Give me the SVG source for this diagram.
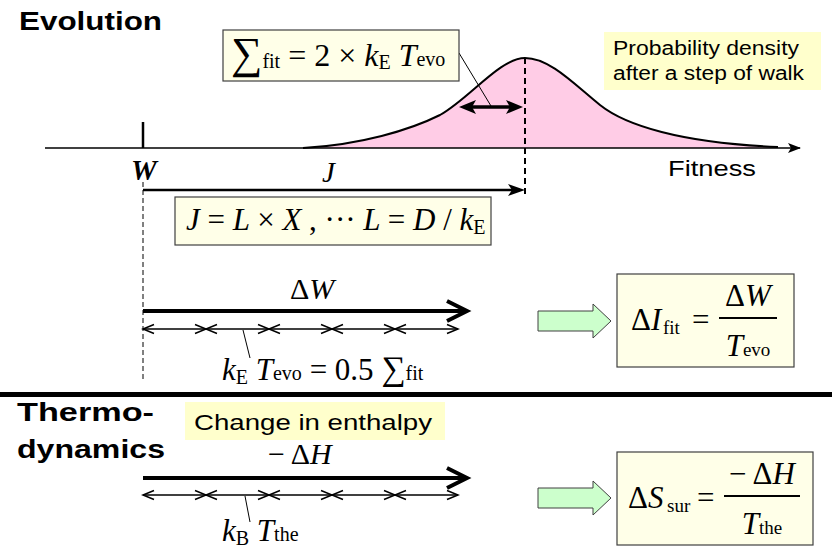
<svg xmlns="http://www.w3.org/2000/svg" width="832" height="552" viewBox="0 0 832 552">
<style>
.sans{font-family:"Liberation Sans",Arial,sans-serif;fill:#000}
.hb{font-family:"Liberation Sans",Arial,sans-serif;font-weight:bold;fill:#000}
.m{font-family:"Liberation Serif","Times New Roman",serif;fill:#000}
.i{font-style:italic}
.box{fill:#FFFFE8;stroke:#404040;stroke-width:1.2}
.note{fill:#FFFFCC;stroke:none}
.green{fill:#CCFFCC;stroke:#404040;stroke-width:1}
.thin{stroke:#000;stroke-width:1.5;fill:none}
</style>
<defs>
<marker id="hAxis" markerUnits="userSpaceOnUse" markerWidth="14" markerHeight="12" refX="12" refY="6" orient="auto"><path d="M0,1 L13,6 L0,11 L3,6 Z" fill="#000"/></marker>
<marker id="hJ" markerUnits="userSpaceOnUse" markerWidth="18" markerHeight="14" refX="12" refY="7" orient="auto"><path d="M0,1 L17,7 L0,13 L4,7 Z" fill="#000"/></marker>
<marker id="hD" markerUnits="userSpaceOnUse" markerWidth="18" markerHeight="16" refX="12" refY="8" orient="auto-start-reverse"><path d="M0,1 L17,8 L0,15 L4,8 Z" fill="#000"/></marker>
<marker id="chev" markerUnits="userSpaceOnUse" markerWidth="14" markerHeight="12" refX="12" refY="6" orient="auto-start-reverse"><path d="M1,1.5 L12,6 L1,10.5" fill="none" stroke="#000" stroke-width="1.5"/></marker>
</defs>

<text class="hb" x="19" y="30" font-size="25" textLength="143" lengthAdjust="spacingAndGlyphs">Evolution</text>

<g id="density">
<path d="M303,148 C360,145 410,130 440,115 C470,98 500,58 525,58 C550,58 575,85 600,105 C625,125 680,143 778,147 L778,148 L303,148 Z" fill="#FFCCE6" stroke="none"/>
<path d="M303,148 C360,145 410,130 440,115 C470,98 500,58 525,58 C550,58 575,85 600,105 C625,125 680,143 778,147" fill="none" stroke="#000" stroke-width="2"/>
</g>

<g id="connectors">
<line x1="45" y1="148" x2="800" y2="148" stroke="#000" stroke-width="1.5" marker-end="url(#hAxis)"/>
<line x1="143" y1="122" x2="143" y2="148" stroke="#000" stroke-width="2.5"/>
<line x1="525" y1="58" x2="525" y2="194" stroke="#000" stroke-width="2" stroke-dasharray="6,4"/>
<line x1="143" y1="182" x2="143" y2="382" stroke="#000" stroke-width="1" stroke-dasharray="5,3"/>
<line x1="143" y1="190" x2="520" y2="190" stroke="#000" stroke-width="2.5" marker-end="url(#hJ)"/>
<line x1="464" y1="107" x2="518" y2="107" stroke="#000" stroke-width="3.5" marker-start="url(#hD)" marker-end="url(#hD)"/>
<line x1="459" y1="53" x2="491" y2="106" stroke="#000" stroke-width="1"/>
<!-- evolution delta W -->
<line x1="143" y1="311" x2="466" y2="311" stroke="#000" stroke-width="4"/>
<polyline points="447,301 467,311 447,321" fill="none" stroke="#000" stroke-width="4"/>
<line class="thin" x1="143" y1="329" x2="206" y2="329" marker-start="url(#chev)" marker-end="url(#chev)"/>
<line class="thin" x1="206" y1="329" x2="269" y2="329" marker-start="url(#chev)" marker-end="url(#chev)"/>
<line class="thin" x1="269" y1="329" x2="332" y2="329" marker-start="url(#chev)" marker-end="url(#chev)"/>
<line class="thin" x1="332" y1="329" x2="395" y2="329" marker-start="url(#chev)" marker-end="url(#chev)"/>
<line class="thin" x1="395" y1="329" x2="458" y2="329" marker-start="url(#chev)" marker-end="url(#chev)"/>
<line x1="243" y1="330" x2="250" y2="358" stroke="#000" stroke-width="1"/>
<!-- thermo -->
<line x1="143" y1="478" x2="466" y2="478" stroke="#000" stroke-width="4"/>
<polyline points="447,468 467,478 447,488" fill="none" stroke="#000" stroke-width="4"/>
<line class="thin" x1="143" y1="495" x2="206" y2="495" marker-start="url(#chev)" marker-end="url(#chev)"/>
<line class="thin" x1="206" y1="495" x2="269" y2="495" marker-start="url(#chev)" marker-end="url(#chev)"/>
<line class="thin" x1="269" y1="495" x2="332" y2="495" marker-start="url(#chev)" marker-end="url(#chev)"/>
<line class="thin" x1="332" y1="495" x2="395" y2="495" marker-start="url(#chev)" marker-end="url(#chev)"/>
<line class="thin" x1="395" y1="495" x2="458" y2="495" marker-start="url(#chev)" marker-end="url(#chev)"/>
<line x1="245" y1="496" x2="250" y2="522" stroke="#000" stroke-width="1"/>
</g>

<g id="sigma-box">
<rect class="box" x="223" y="30" width="236" height="51"/>
<text class="m" x="231" y="66" font-size="32"><tspan font-size="44" dy="2">∑</tspan><tspan font-size="20" dy="0">fit</tspan><tspan dy="-2"> = 2 × </tspan><tspan class="i">k</tspan><tspan font-size="20" dy="3">E</tspan><tspan class="i" dy="-3"> T</tspan><tspan font-size="20">evo</tspan></text>
</g>

<g id="prob-note">
<rect class="note" x="604" y="32" width="217" height="58"/>
<text class="sans" x="613" y="55" font-size="20" textLength="186" lengthAdjust="spacingAndGlyphs">Probability density</text>
<text class="sans" x="613" y="80" font-size="20" textLength="191" lengthAdjust="spacingAndGlyphs">after a step of walk</text>
</g>

<text class="sans" x="668" y="176" font-size="22" textLength="88" lengthAdjust="spacingAndGlyphs">Fitness</text>
<text class="m i" x="131" y="180" font-size="29" font-weight="bold">W</text>
<text class="m i" x="322" y="182" font-size="29">J</text>

<g id="j-box">
<rect class="box" x="175" y="197" width="316" height="48"/>
<text class="m i" x="186" y="230" font-size="31">J <tspan font-style="normal">=</tspan> L <tspan font-style="normal">×</tspan> X<tspan font-style="normal"> , ··· </tspan>L <tspan font-style="normal">=</tspan> D <tspan font-style="normal">/</tspan> k<tspan font-style="normal" font-size="20" dy="4">E</tspan></text>
</g>

<text class="m" x="290" y="299" font-size="30">Δ<tspan class="i">W</tspan></text>
<text class="m" x="222" y="380" font-size="31"><tspan class="i">k</tspan><tspan font-size="20" dy="4">E</tspan><tspan class="i" dy="-4"> T</tspan><tspan font-size="20">evo</tspan> = 0.5 <tspan font-size="34">∑</tspan><tspan font-size="20">fit</tspan></text>

<g id="arrow-evo">
<path class="green" d="M538,311 L593,311 L593,304 L611,321 L593,338 L593,331 L538,331 Z"/>
</g>

<g id="dI-box">
<rect class="box" x="617" y="274" width="177" height="93"/>
<text class="m" x="631" y="330" font-size="31">Δ<tspan class="i">I</tspan></text>
<text class="m" x="663" y="334" font-size="19">fit</text>
<text class="m" x="692" y="330" font-size="31">=</text>
<line x1="719" y1="318" x2="777" y2="318" stroke="#000" stroke-width="2"/>
<text class="m" x="748" y="306" font-size="31" text-anchor="middle">Δ<tspan class="i">W</tspan></text>
<text class="m" x="748" y="356" font-size="31" text-anchor="middle"><tspan class="i">T</tspan><tspan font-size="19">evo</tspan></text>
</g>

<rect x="0" y="392" width="832" height="5" fill="#000"/>

<text class="hb" x="17" y="421" font-size="25" textLength="137" lengthAdjust="spacingAndGlyphs">Thermo-</text>
<text class="hb" x="17" y="458" font-size="25" textLength="148" lengthAdjust="spacingAndGlyphs">dynamics</text>

<g id="enthalpy-note">
<rect class="note" x="185" y="402" width="260" height="38"/>
<text class="sans" x="194" y="430" font-size="22" textLength="238" lengthAdjust="spacingAndGlyphs">Change in enthalpy</text>
</g>

<text class="m" x="268" y="464" font-size="30">− Δ<tspan class="i">H</tspan></text>
<text class="m" x="222" y="541" font-size="31"><tspan class="i">k</tspan><tspan font-size="20" dy="4">B</tspan><tspan class="i" dy="-4"> T</tspan><tspan font-size="20">the</tspan></text>

<g id="arrow-thermo">
<path class="green" d="M538,488 L593,488 L593,481 L611,498 L593,515 L593,508 L538,508 Z"/>
</g>

<g id="dS-box">
<rect class="box" x="617" y="452" width="196" height="93"/>
<text class="m" x="628" y="508" font-size="31">Δ<tspan class="i">S</tspan></text>
<text class="m" x="667" y="512" font-size="19">sur</text>
<text class="m" x="697" y="508" font-size="31">=</text>
<line x1="724" y1="496" x2="800" y2="496" stroke="#000" stroke-width="2"/>
<text class="m" x="762" y="484" font-size="31" text-anchor="middle">− Δ<tspan class="i">H</tspan></text>
<text class="m" x="762" y="534" font-size="31" text-anchor="middle"><tspan class="i">T</tspan><tspan font-size="19">the</tspan></text>
</g>
</svg>
